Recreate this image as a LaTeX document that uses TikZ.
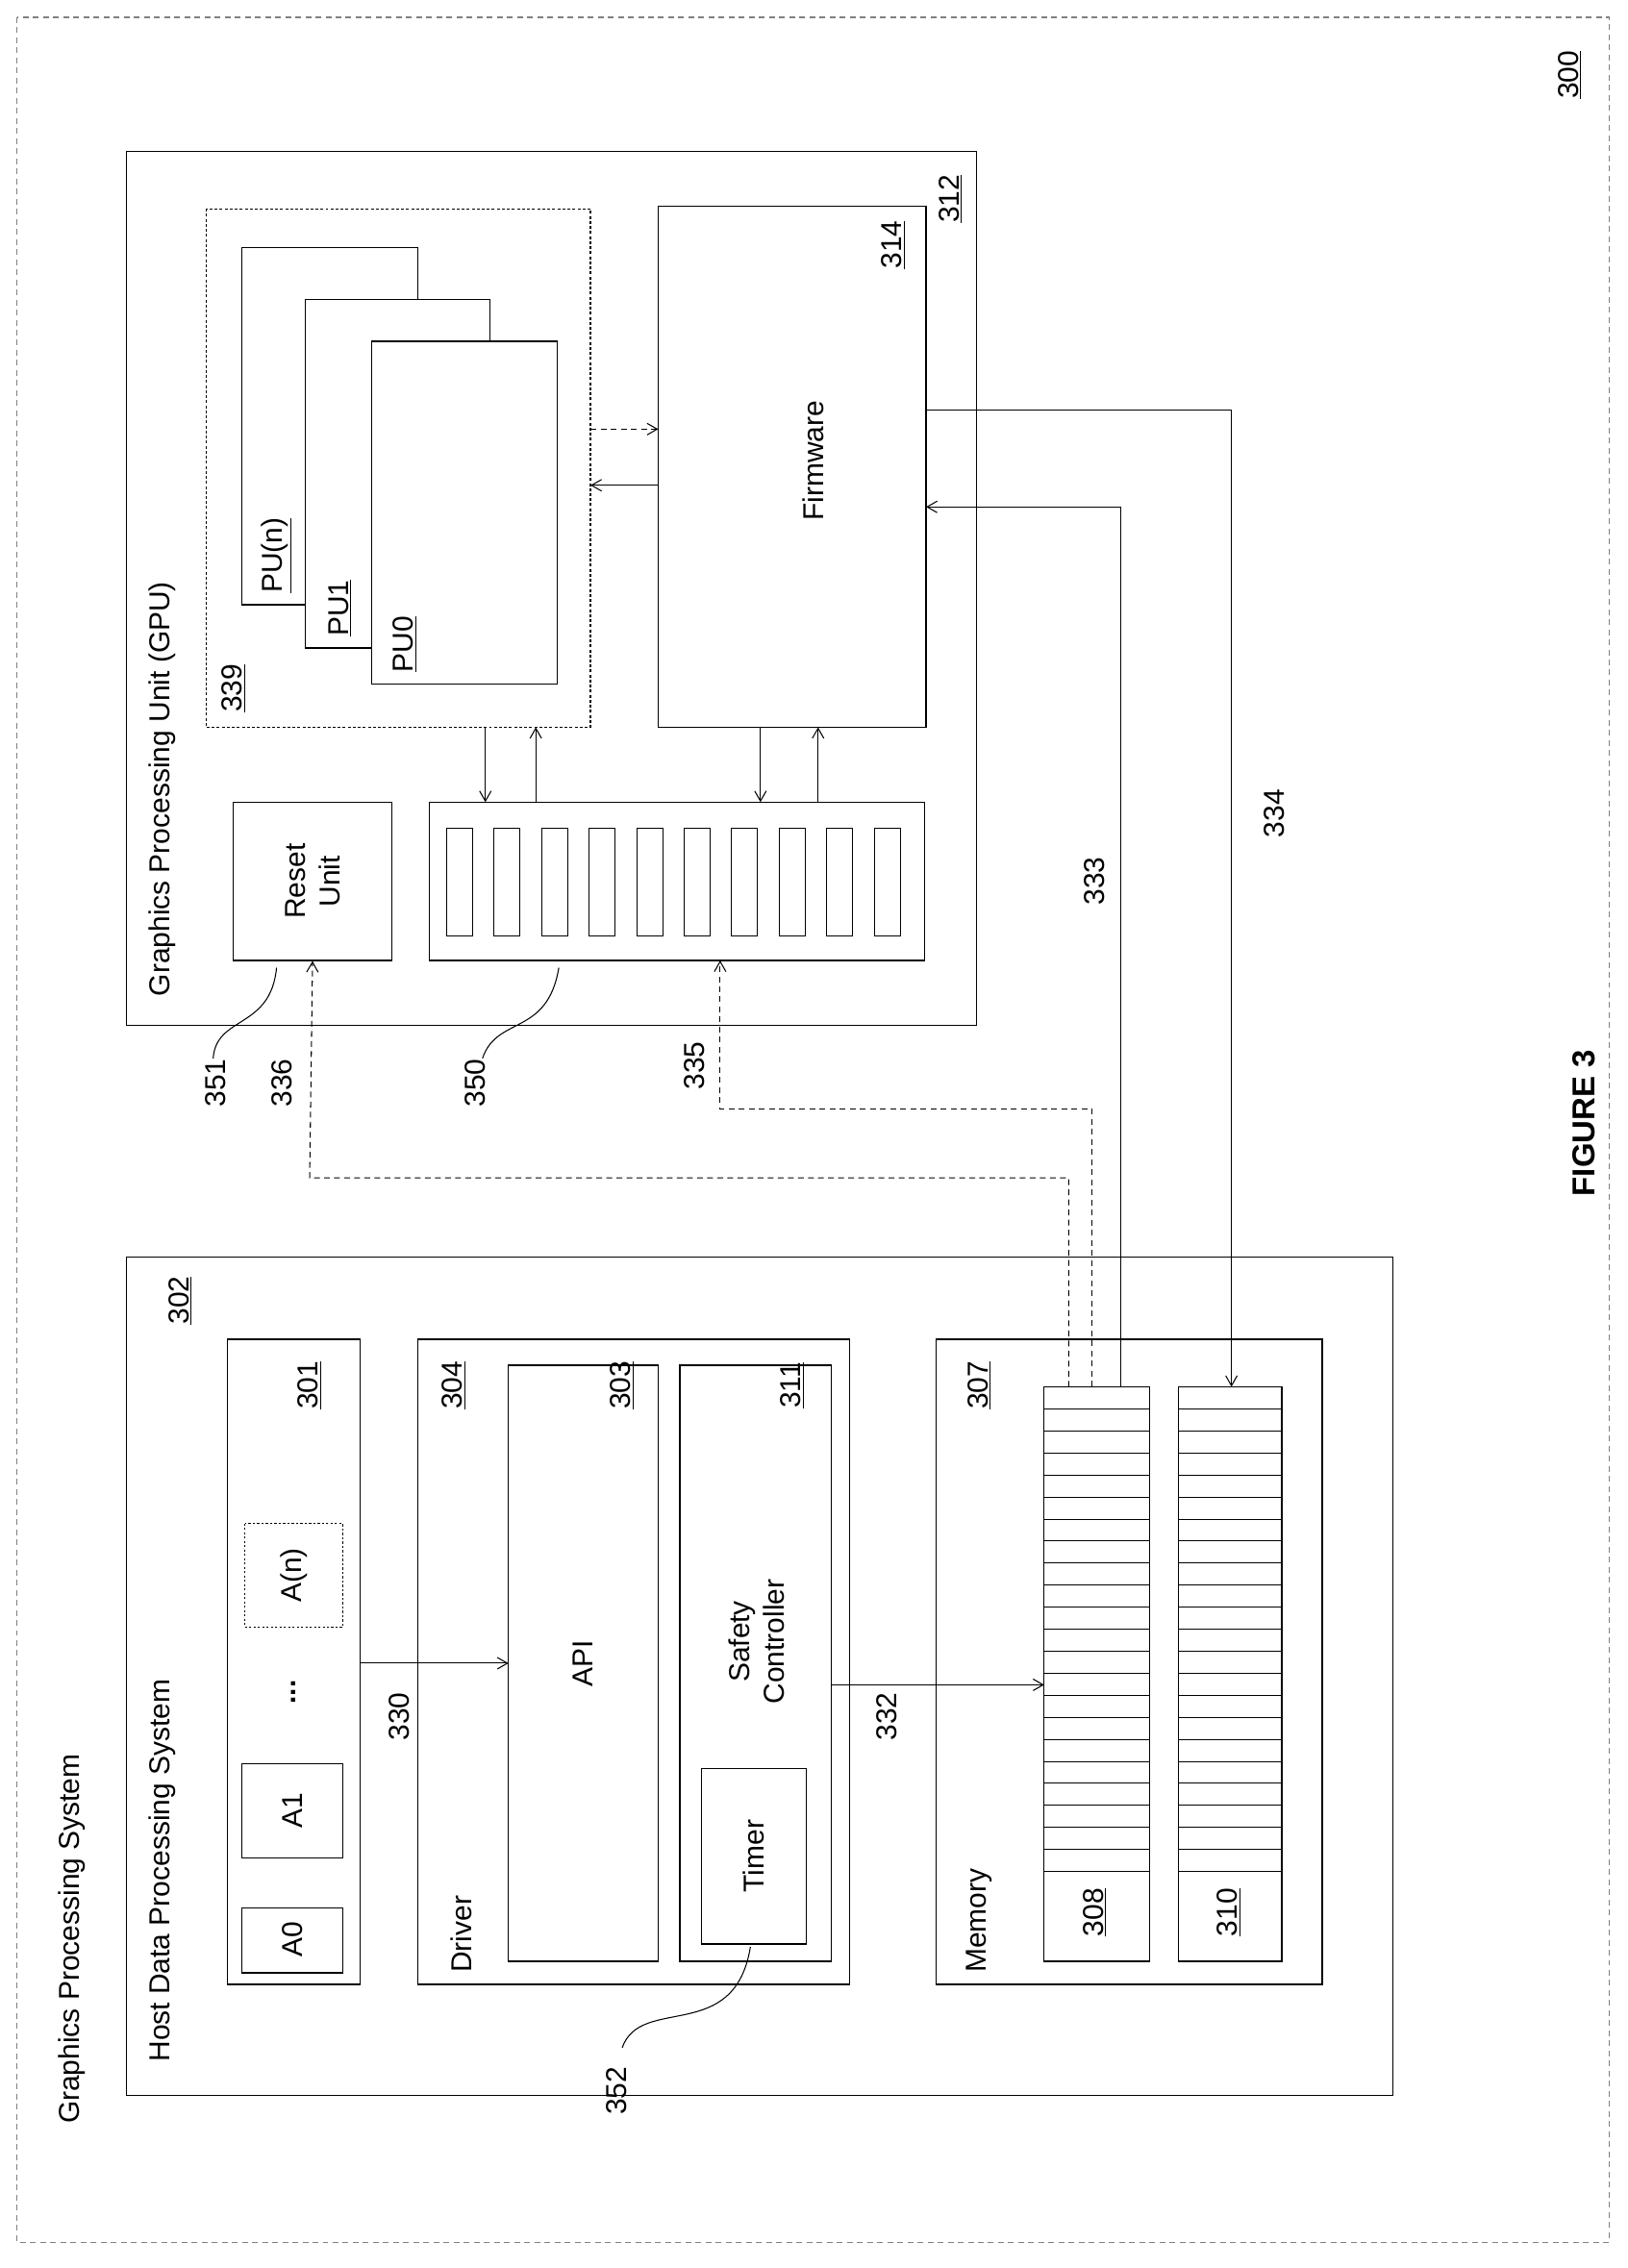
\documentclass[tikz,border=0pt]{standalone}
\usepackage{fontspec}
\setmainfont{Liberation Sans}
\usetikzlibrary{arrows.meta}
\begin{document}
\begin{tikzpicture}[x=1pt,y=-1pt,
 box/.style={draw,line width=0.8pt},
 lbl/.style={rotate=90,font=\fontsize{20}{24}\selectfont,inner sep=0pt},
 arr/.style={-{Straight Barb[length=7pt,width=8pt]},line width=0.7pt},
 darr/.style={arr,dash pattern=on 4pt off 3pt}]
\useasboundingbox (0,0) rectangle (1130,1575);
\draw[dash pattern=on 4pt off 3pt,gray,line width=0.7pt] (12,12) rectangle (1117,1557);
\node[lbl] at (1090,52) {\underline{300}};
\node[lbl,anchor=west] at (50,1475) {Graphics Processing System};
% GPU
\draw[box] (88,105) rectangle (678,712);
\node[lbl] at (660,138) {\underline{312}};
\node[lbl,anchor=west] at (113,692) {Graphics Processing Unit (GPU)};
\draw[box,dash pattern=on 2pt off 1.5pt] (143,145) rectangle (410,505);
\node[lbl] at (162,478) {\underline{339}};
\draw[box,fill=white] (168,172) rectangle (290,420);
\node[lbl,anchor=west] at (192,412) {\underline{PU(n)}};
\draw[box,fill=white] (212,208) rectangle (340,450);
\node[lbl,anchor=west] at (236,442) {\underline{PU1}};
\draw[box,fill=white] (258,237) rectangle (387,475);
\node[lbl,anchor=west] at (281,467) {\underline{PU0}};
\node[box,minimum width=186pt,minimum height=362pt,inner sep=0pt] (fw) at (550,324) {};
\node[lbl] at (565,320) {Firmware};
\node[lbl] at (620,170) {\underline{314}};
\coordinate (pa) at (410,298);
\coordinate (pb) at (410,337);
\coordinate (fa) at (457,298);
\coordinate (fb) at (457,337);
\draw[darr] (pa) -- (fa);
\draw[arr] (fb) -- (pb);
\node[box,minimum width=110pt,minimum height=110pt,inner sep=0pt] (rst) at (217,612) {};
\node[lbl,align=center] at (217,612) {Reset\\Unit};
\node[box,minimum width=344pt,minimum height=110pt,inner sep=0pt] (bank) at (470,612) {};
\foreach \i in {0,...,9} \draw[line width=0.6pt] (310+33*\i,575) rectangle (328+33*\i,650);
\draw[arr] (337,505) -- (337,557);
\draw[arr] (372,557) -- (372,505);
\draw[arr] (528,505) -- (528,557);
\draw[arr] (568,557) -- (568,505);
\draw[line width=0.7pt] (192,672) .. controls (188,715) and (150,705) .. (148,735);
\node[lbl] at (150,752) {351};
\draw[line width=0.7pt] (388,672) .. controls (380,720) and (345,705) .. (335,735);
\node[lbl] at (330,752) {350};
\node[lbl] at (196,752) {336};
\node[lbl] at (482,740) {335};
\node[lbl] at (760,612) {333};
\node[lbl] at (885,565) {334};
% Host
\draw[box] (88,873) rectangle (967,1455);
\node[lbl] at (125,903) {\underline{302}};
\node[lbl,anchor=west] at (113,1432) {Host Data Processing System};
\node[box,minimum width=92pt,minimum height=448pt,inner sep=0pt] (apps) at (204,1154) {};
\node[lbl] at (215,962) {\underline{301}};
\draw[box] (168,1325) rectangle (238,1370); \node[lbl] at (203,1347) {A0};
\draw[box] (168,1225) rectangle (238,1290); \node[lbl] at (203,1257) {A1};
\draw[box,dash pattern=on 1.5pt off 1.5pt] (170,1058) rectangle (238,1130); \node[lbl] at (204,1094) {A(n)};
\node[lbl,font=\fontsize{20}{24}\selectfont\bfseries] at (204,1175) {...};
\draw[box] (290,930) rectangle (590,1378);
\node[lbl] at (315,962) {\underline{304}};
\node[lbl,anchor=west] at (320,1370) {Driver};
\node[box,minimum width=104pt,minimum height=414pt,inner sep=0pt] (api) at (405,1155) {};
\node[lbl] at (405,1155) {API};
\node[lbl] at (432,962) {\underline{303}};
\node[box,minimum width=105pt,minimum height=414pt,inner sep=0pt] (sc) at (524.5,1155) {};
\node[lbl,align=center] at (525,1140) {Safety\\Controller};
\node[lbl] at (550,962) {\underline{311}};
\node[box,minimum width=73pt,minimum height=122pt,inner sep=0pt] (tim) at (523.5,1289) {};
\node[lbl] at (523,1289) {Timer};
\draw[line width=0.7pt] (521,1352) .. controls (510,1420) and (445,1385) .. (432,1422);
\node[lbl] at (428,1452) {352};
\draw[box] (650,930) rectangle (918,1378);
\node[lbl] at (680,962) {\underline{307}};
\node[lbl,anchor=west] at (680,1370) {Memory};
\node[box,minimum width=73pt,minimum height=399pt,inner sep=0pt] (b308) at (761.5,1162.5) {};
\node[box,minimum width=72pt,minimum height=399pt,inner sep=0pt] (b310) at (854,1162.5) {};
\foreach \i in {1,...,22} {\draw[line width=0.5pt] (725,963+15.3*\i) -- (798,963+15.3*\i);
 \draw[line width=0.5pt] (818,963+15.3*\i) -- (890,963+15.3*\i);}
\node[lbl] at (760,1328) {\underline{308}};
\node[lbl] at (853,1328) {\underline{310}};
\coordinate (a1) at (250,1155); \coordinate (a2) at (353,1155);
\draw[arr] (a1) -- (a2);
\node[lbl] at (277,1192) {330};
\coordinate (s1) at (577,1170); \coordinate (s2) at (725,1170);
\draw[arr] (s1) -- (s2);
\node[lbl] at (616,1192) {332};
\coordinate (m1) at (778,963); \coordinate (f1) at (643,352);
\draw[arr] (m1) -- (778,352) -- (f1);
\coordinate (f2) at (643,285); \coordinate (m2) at (855,963);
\draw[arr] (f2) -- (855,285) -- (m2);
\coordinate (m3) at (758,963); \coordinate (bk) at (500,667);
\draw[darr] (m3) -- (758,770) -- (500,770) -- (bk);
\coordinate (m4) at (742,963);
\draw[darr] (m4) -- (742,818) -- (215,818) -- (rst.south);
\node[lbl,font=\fontsize{22}{26}\selectfont\bfseries] at (1100,780) {FIGURE 3};
\end{tikzpicture}
\end{document}
